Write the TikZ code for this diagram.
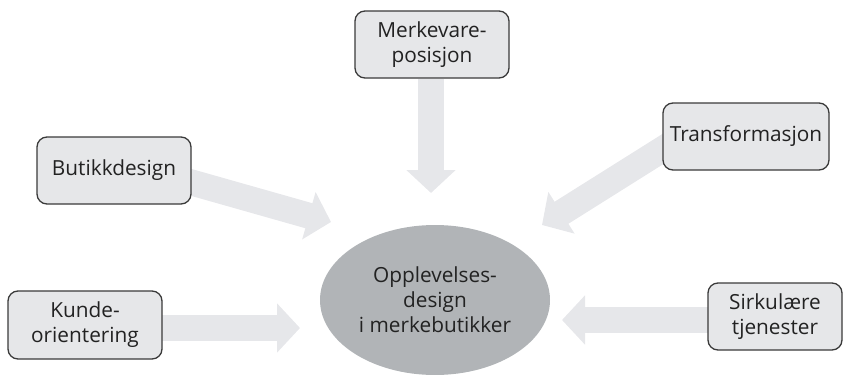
\documentclass[tikz,border=0pt]{standalone}
\usepackage{fontspec}
\setmainfont{Open Sans}
\usetikzlibrary{arrows.meta,shapes.geometric}
\pgfdeclarelayer{background}
\pgfsetlayers{background,main}
\definecolor{boxfill}{HTML}{E6E7E9}
\definecolor{boxline}{HTML}{3A3A3A}
\definecolor{hubfill}{HTML}{B1B4B7}
\definecolor{flowfill}{HTML}{E6E7EA}
\definecolor{txt}{HTML}{222222}
\tikzset{
  x=1pt, y=-1pt,
  factor/.style={draw=boxline, line width=1.3pt, fill=boxfill, rounded corners=10pt,
    align=center, text=txt, inner sep=0pt,
    font=\fontsize{20.8}{25}\selectfont},
  hub/.style={ellipse, fill=hubfill, draw=none, inner sep=0pt, align=center, text=txt,
    font=\fontsize{20.8}{25}\selectfont},
  flow/.style={draw=flowfill, line width=26pt,
    -{Triangle[length=23pt, width=48pt, fill=flowfill]}},
}
\begin{document}
\begin{tikzpicture}
\useasboundingbox (0,0) rectangle (852,375);

\node[hub, minimum width=230pt, minimum height=150pt] (hub) at (435,300)
  {Opplevelses-\\design\\i merkebutikker};

\node[factor, minimum width=154pt, minimum height=67pt] (merk) at (432,44.5)
  {Merkevare-\\posisjon};
\node[factor, minimum width=154pt, minimum height=67pt] (butikk) at (114,170.5)
  {Butikkdesign};
\node[factor, minimum width=166pt, minimum height=67pt] (trans) at (746,136.5)
  {Transformasjon};
\node[factor, minimum width=154pt, minimum height=68pt] (kunde) at (85,325)
  {Kunde-\\orientering};
\node[factor, minimum width=134pt, minimum height=67pt] (sirk) at (775,316.5)
  {Sirkulære\\tjenester};

% arrow tips, just short of the hub
\coordinate (tipMerk) at (431,193);
\coordinate (tipButikk) at (331,222);
\coordinate (tipKunde) at (300,328);
\coordinate (tipTrans) at (542,225);
\coordinate (tipSirk) at (562,320);

\begin{pgfonlayer}{background}
  \draw[flow] (merk.south -| tipMerk) -- (tipMerk);
  \draw[flow] (butikk.center) ++(60,7) -- (tipButikk);
  \draw[flow] (kunde.center) ++(60,3) -- (tipKunde);
  \draw[flow] (trans.center) ++(-60,-2) -- (tipTrans);
  \draw[flow] (sirk.center) ++(-50,3.5) -- (tipSirk);
\end{pgfonlayer}
\end{tikzpicture}
\end{document}
